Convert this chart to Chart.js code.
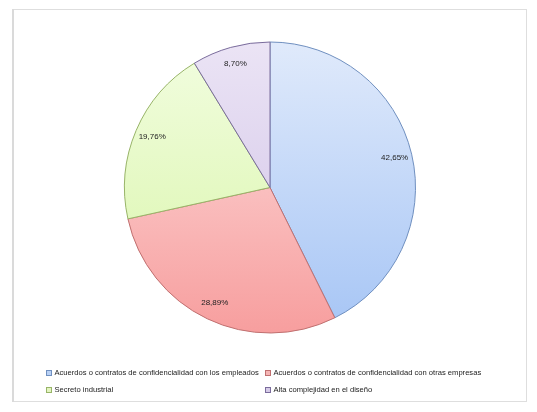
<!DOCTYPE html>
<html>
<head>
<meta charset="utf-8">
<script src="https://cdn.jsdelivr.net/npm/chart.js@4/dist/chart.umd.min.js"></script>
<style>
html,body{margin:0;padding:0;background:#fff;}
#wrap{position:relative;width:537px;height:412px;}
</style>
</head>
<body>
<div id="wrap"><canvas id="c" width="537" height="412"></canvas></div>
<script>
const categories = [
  "Acuerdos o contratos de confidencialidad con los empleados",
  "Acuerdos o contratos de confidencialidad con otras empresas",
  "Secreto industrial",
  "Alta complejidad en el diseño"
];
const values = [42.65, 28.89, 19.76, 8.70];
const gradTop = ["#e0eafb", "#fde0e0", "#f2fde0", "#ebe4f5"];
const gradBottom = ["#a6c5f5", "#f79e9e", "#d8f5a8", "#cfc0e6"];
const borders = ["#7090c0", "#c07070", "#98b468", "#7a6c9c"];
const legendFill = ["#b9d1f5", "#f5b5b5", "#e3f5c0", "#d6cbe8"];

const FONT = "'Liberation Sans', sans-serif";

function fmt(v){ return v.toFixed(2).replace('.', ',') + '%'; }

const framePlugin = {
  id: 'frame',
  beforeDraw(chart){
    const ctx = chart.ctx;
    ctx.save();
    ctx.fillStyle = '#fff';
    ctx.fillRect(0,0,chart.width,chart.height);
    ctx.strokeStyle = '#dedede';
    ctx.lineWidth = 1;
    ctx.strokeRect(12.5, 9.5, 514, 392);
    ctx.fillStyle = '#dadada';
    ctx.fillRect(12, 9, 2, 393);
    ctx.restore();
  }
};

const labelPlugin = {
  id: 'pctLabels',
  afterDatasetsDraw(chart){
    const ctx = chart.ctx;
    const meta = chart.getDatasetMeta(0);
    ctx.save();
    ctx.font = "8px " + FONT;
    ctx.fillStyle = '#222';
    ctx.textAlign = 'center';
    ctx.textBaseline = 'middle';
    meta.data.forEach((arc, i) => {
      const p = arc.getProps(['x','y','startAngle','endAngle','outerRadius'], true);
      const mid = (p.startAngle + p.endAngle) / 2;
      const r = p.outerRadius * 0.88;
      ctx.fillText(fmt(values[i]), p.x + Math.cos(mid) * r, p.y + Math.sin(mid) * r);
    });
    ctx.restore();
  }
};

const legendPlugin = {
  id: 'gridLegend',
  afterDraw(chart){
    const ctx = chart.ctx;
    const cols = [46, 265];
    const rows = [373, 390];
    ctx.save();
    ctx.font = "7.6px " + FONT;
    ctx.textBaseline = 'middle';
    ctx.textAlign = 'left';
    categories.forEach((lab, i) => {
      const x = cols[i % 2], y = rows[Math.floor(i / 2)];
      ctx.fillStyle = legendFill[i];
      ctx.fillRect(x, y - 3, 6, 6);
      ctx.strokeStyle = borders[i];
      ctx.lineWidth = 1;
      ctx.strokeRect(x + 0.5, y - 2.5, 5, 5);
      ctx.fillStyle = '#222';
      ctx.fillText(lab, x + 8.5, y);
    });
    ctx.restore();
  }
};

function grad(ctx, i){
  const chart = ctx.chart;
  const area = chart.chartArea;
  if (!area) return gradTop[i];
  const g = chart.ctx.createLinearGradient(0, area.top, 0, area.bottom);
  g.addColorStop(0, gradTop[i]);
  g.addColorStop(1, gradBottom[i]);
  return g;
}

new Chart(document.getElementById('c'), {
  type: 'pie',
  data: {
    labels: categories,
    datasets: [{
      data: values,
      backgroundColor: (ctx) => grad(ctx, ctx.dataIndex),
      borderColor: borders,
      borderWidth: 1,
      hoverOffset: 0,
      offset: 0
    }]
  },
  options: {
    responsive: false,
    animation: false,
    layout: { padding: { top: 41.5, bottom: 78.5, left: 124, right: 121 } },
    plugins: {
      legend: { display: false },
      tooltip: { enabled: false }
    }
  },
  plugins: [framePlugin, labelPlugin, legendPlugin]
});
</script>
</body>
</html>
